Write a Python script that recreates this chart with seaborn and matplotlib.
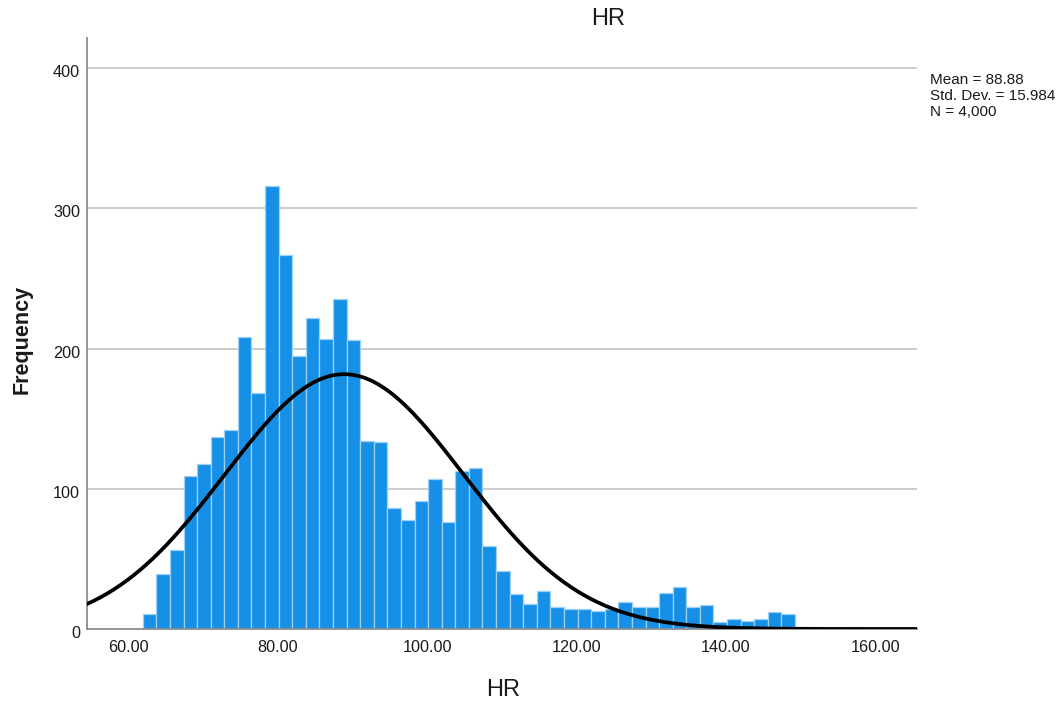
import numpy as np
import pandas as pd
import matplotlib
matplotlib.use("Agg")
import matplotlib.pyplot as plt
import matplotlib.transforms as mtransforms
import seaborn as sns

# ---- data -------------------------------------------------------------
title = "HR"
x_label = "HR"
y_label = "Frequency"

bin_start = 61.9
bin_width = 1.82
counts = [11, 39, 56, 109, 118, 137, 142, 208, 168, 316, 267, 195,
          222, 207, 235, 206, 134, 133, 86, 78, 91, 107, 76, 113,
          115, 59, 41, 25, 18, 27, 16, 14, 14, 13, 14, 19,
          16, 16, 26, 30, 16, 17, 5, 7, 6, 7, 12, 11]
mean = 88.88
std_dev = 15.984
n_total = 4000

x_ticks = [60, 80, 100, 120, 140, 160]
y_ticks = [0, 100, 200, 300, 400]

# ---- style ------------------------------------------------------------
sns.set_theme(style="white")
plt.rcParams["font.family"] = ["Liberation Sans", "DejaVu Sans"]

BAR = "#1590e6"
BAR_EDGE = "#9fd0f6"
GRID = "#c4c4c4"
SPINE = "#8c8c8c"
TEXT = "#1a1a1a"

W, H = 1062, 705
fig = plt.figure(figsize=(W / 100, H / 100), dpi=100)
ax = fig.add_axes([87 / W, 1 - 629 / H, (917 - 87) / W, (629 - 38) / H])

n_bins = len(counts)
bin_end = bin_start + n_bins * bin_width
centers = [bin_start + (i + 0.5) * bin_width for i in range(n_bins)]
hist_df = pd.DataFrame({"hr": centers, "count": counts})

sns.histplot(data=hist_df, x="hr", weights="count", bins=n_bins,
             binrange=(bin_start, bin_end), ax=ax,
             color=BAR, edgecolor=BAR_EDGE, linewidth=0.9, alpha=1.0,
             zorder=2)

# fitted normal curve scaled to counts per bin
x_lo, x_hi = 54.43, 165.6
xs = np.linspace(x_lo, x_hi, 500)
ys = n_total * bin_width * np.exp(-0.5 * ((xs - mean) / std_dev) ** 2) / (std_dev * np.sqrt(2 * np.pi))
curve_df = pd.DataFrame({"hr": xs, "freq": ys})
sns.lineplot(data=curve_df, x="hr", y="freq", ax=ax, color="black", linewidth=2.7, zorder=3)

ax.set_xlim(x_lo, x_hi)
ax.set_ylim(0, 421.4)
ax.set_xticks(x_ticks)
ax.set_xticklabels([f"{v:.2f}" for v in x_ticks])
ax.set_yticks(y_ticks)
ax.set_yticklabels([str(v) for v in y_ticks])
ax.tick_params(axis="both", length=0, labelsize=11.7, colors=TEXT)
ax.tick_params(axis="x", pad=8)
ax.tick_params(axis="y", pad=5)
for lbl in ax.get_yticklabels():
    lbl.set_transform(lbl.get_transform() + mtransforms.ScaledTranslation(0, -3 / 100, fig.dpi_scale_trans))

for v in y_ticks[1:]:
    ax.axhline(v, color=GRID, linewidth=1.2, zorder=1)

for side in ("top", "right"):
    ax.spines[side].set_visible(False)
for side in ("left", "bottom"):
    ax.spines[side].set_color(SPINE)
    ax.spines[side].set_linewidth(1.3)
ax.set_xlabel("")
ax.set_ylabel("")

fig.text(608 / W, 1 - 19 / H, title, ha="center", va="center", fontsize=17, color=TEXT)
fig.text(503 / W, 1 - 690 / H, x_label, ha="center", va="center", fontsize=17, color=TEXT)
fig.text(22 / W, 1 - 339 / H, y_label, ha="center", va="center", rotation=90,
         fontsize=15.5, fontweight="semibold", color=TEXT)

stats = f"Mean = {mean:.2f}\nStd. Dev. = {std_dev:.3f}\nN = {n_total:,}"
fig.text(930 / W, 1 - 73 / H, stats, ha="left", va="top", fontsize=11,
         linespacing=1.2, color=TEXT)

fig.savefig("out.png", dpi=100, facecolor="white")
